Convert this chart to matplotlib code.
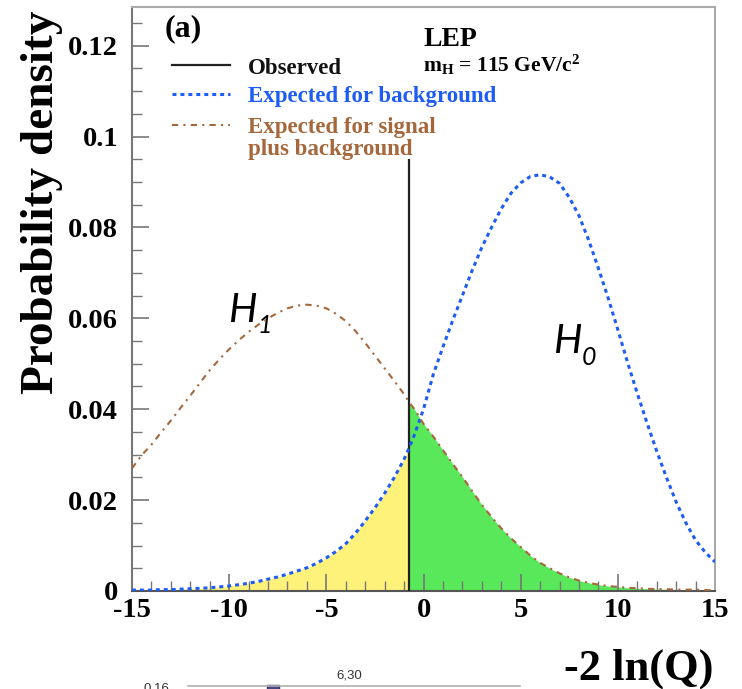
import numpy as np
import matplotlib
matplotlib.use("Agg")
import matplotlib.pyplot as plt
from matplotlib.ticker import MultipleLocator, FixedLocator
from matplotlib.lines import Line2D

plt.rcParams['mathtext.fontset'] = 'custom'
plt.rcParams['mathtext.rm'] = 'Liberation Serif:bold'
plt.rcParams['mathtext.it'] = 'Liberation Serif:bold'
plt.rcParams['mathtext.bf'] = 'Liberation Serif:bold'

# ---- data ----
x_vals = [-15, -14.5, -14, -13.5, -13, -12.5, -12, -11.5, -11, -10.5, -10, -9.5, -9, -8.5,
          -8, -7.5, -7, -6.5, -6, -5.5, -5, -4.5, -4, -3.5, -3, -2.5, -2, -1.5, -1, -0.75,
          -0.5, 0, 0.5, 1, 1.5, 2, 2.5, 3, 3.5, 4, 4.5, 5, 5.5, 6, 6.5, 7, 7.5, 8, 8.5,
          9, 9.5, 10, 10.5, 11, 11.5, 12, 12.5, 13, 13.5, 14, 14.5, 15]
background = [0.0002, 0.0002, 0.0002, 0.0003, 0.0003, 0.0004, 0.0005, 0.0006, 0.0007, 0.0009,
              0.0011, 0.0014, 0.0017, 0.0021, 0.0026, 0.0031, 0.0037, 0.0044, 0.0051, 0.0061,
              0.0073, 0.0087, 0.0104, 0.0127, 0.0154, 0.0183, 0.0215, 0.0250, 0.0290, 0.0314,
              0.0340, 0.0400, 0.0476, 0.0537, 0.0595, 0.0650, 0.0705, 0.0756, 0.0800, 0.0841,
              0.0875, 0.0898, 0.0912, 0.0916, 0.0911, 0.0897, 0.0866, 0.0826, 0.0772, 0.0710,
              0.0645, 0.0575, 0.0503, 0.0435, 0.0370, 0.0308, 0.0250, 0.0196, 0.0150, 0.0112,
              0.0085, 0.0064]
signal_bkg = [0.0270, 0.0299, 0.0322, 0.0349, 0.0375, 0.0403, 0.0430, 0.0458, 0.0486, 0.0510,
              0.0532, 0.0552, 0.0570, 0.0586, 0.0600, 0.0612, 0.0622, 0.0628, 0.0630, 0.0628,
              0.0622, 0.0610, 0.0594, 0.0572, 0.0546, 0.0518, 0.0490, 0.0462, 0.0433, 0.0416,
              0.0402, 0.0368, 0.0340, 0.0310, 0.0280, 0.0251, 0.0220, 0.0190, 0.0163, 0.0138,
              0.0116, 0.0097, 0.0078, 0.0062, 0.0050, 0.0039, 0.0030, 0.0023, 0.0018, 0.0014,
              0.0011, 0.0009, 0.0007, 0.0006, 0.0005, 0.0004, 0.0004, 0.0003, 0.0003, 0.0003,
              0.0002, 0.0002]
observed = -0.75
observed_line_top = 0.095
x_ticks = [-15, -10, -5, 0, 5, 10, 15]
x_tick_labels = ['-15', '-10', '-5', '0', '5', '10', '15']
y_ticks = [0, 0.02, 0.04, 0.06, 0.08, 0.1, 0.12]
y_tick_labels = ['0', '0.02', '0.04', '0.06', '0.08', '0.1', '0.12']
legend_labels = ['Observed', 'Expected for background', 'Expected for signal', 'plus background']

x = np.array(x_vals)
bkg = np.array(background)
sb = np.array(signal_bkg)

BLUE = '#1f5cf5'
BROWN = '#a5683c'
YELLOW = '#fff27a'
GREEN = '#58e85a'
OBS = '#222222'
SERIF = 'Liberation Serif'
BLUE_LS = (0, (1.3, 1.3))
BROWN_LS = (0, (3, 2.5, 1, 2.5))

W, H = 742, 689
def fx(px):
    return px / W
def fy(py):
    return 1 - py / H

fig = plt.figure(figsize=(W / 100, H / 100), dpi=100)
ax = fig.add_axes([fx(132), fy(591), (715 - 132) / W, (591 - 7) / H])

left = x <= observed
right = x >= observed
ax.fill_between(x[left], 0, bkg[left], color=YELLOW, lw=0, zorder=1)
ax.fill_between(x[right], 0, sb[right], color=GREEN, lw=0, zorder=1)

ax.vlines(observed, 0, observed_line_top, color=OBS, lw=1.6, zorder=3)
ax.plot(x, bkg, color=BLUE, lw=2.2, linestyle=BLUE_LS, zorder=4)
ax.plot(x, sb, color=BROWN, lw=1.5, linestyle=BROWN_LS, zorder=4)

ax.set_xlim(-15, 15)
ax.set_ylim(0, 0.1285)

ax.xaxis.set_major_locator(FixedLocator(x_ticks))
ax.xaxis.set_minor_locator(MultipleLocator(1))
ax.yaxis.set_major_locator(FixedLocator(y_ticks))
ax.yaxis.set_minor_locator(MultipleLocator(0.005))
ax.set_yticklabels(y_tick_labels)
ax.set_xticklabels(x_tick_labels)

ax.tick_params(which='both', direction='in', top=False, right=False, color='#777777')
ax.tick_params(which='major', length=12, width=1.2)
ax.tick_params(which='minor', length=7, width=1.0)
for lab in ax.get_xticklabels() + ax.get_yticklabels():
    lab.set_fontfamily(SERIF)
    lab.set_fontweight('bold')
    lab.set_fontsize(20.5)
ax.tick_params(axis='x', pad=5)
ax.tick_params(axis='y', pad=10)

for s in ax.spines.values():
    s.set_color('#aaaaaa')
    s.set_linewidth(1.5)
ax.spines['bottom'].set_color('#555555')
ax.spines['left'].set_color('#777777')

# axis labels
fig.text(fx(21), fy(202), 'Probability density', rotation=90, fontfamily=SERIF,
         fontweight='bold', fontsize=34, ha='left', va='center')
fig.text(fx(713), fy(680), '-2 ln(Q)', fontfamily=SERIF, fontweight='bold', fontsize=32,
         ha='right', va='baseline')

# annotations
fig.text(fx(165), fy(36), '(a)', fontfamily=SERIF, fontweight='bold', fontsize=23,
         va='baseline')
fig.text(fx(423), fy(46), 'LEP', fontfamily=SERIF, fontweight='bold', fontsize=20,
         va='baseline')
fig.text(fx(423), fy(72), r'm$_\mathrm{H}$ = 115 GeV/c$^\mathrm{2}$',
         fontfamily=SERIF, fontweight='bold', fontsize=15.5, va='baseline')

# legend (drawn by hand to match the layout)
for (yy, col, ls, lw) in [(65, OBS, '-', 1.6), (94, BLUE, BLUE_LS, 2.2), (125, BROWN, BROWN_LS, 1.5)]:
    fig.add_artist(Line2D([fx(172), fx(230)], [fy(yy), fy(yy)], color=col, linestyle=ls, lw=lw))
for (lab, yy, col) in zip(legend_labels, [74, 102, 133, 155], ['#111111', BLUE, BROWN, BROWN]):
    fig.text(fx(248), fy(yy), lab, fontfamily=SERIF, fontweight='bold', fontsize=16.5,
             color=col, va='baseline')

# hypothesis labels
ax.text(-10.06, 0.0591, 'H', fontfamily='Lato', style='italic', fontsize=29, ha='left', va='baseline')
ax.text(-8.52, 0.0567, '1', fontfamily='Lato', style='italic', fontsize=18, ha='left', va='baseline')
ax.text(6.66, 0.0523, 'H', fontfamily='Lato', style='italic', fontsize=29, ha='left', va='baseline')
ax.text(8.16, 0.0497, '0', fontfamily='Lato', style='italic', fontsize=18, ha='left', va='baseline')

# cropped fragment of another chart at the bottom edge
fig.text(fx(349), fy(675), '6,30', fontfamily='Liberation Sans', fontsize=9.5,
         ha='center', va='center', color='#333333')
fig.text(fx(143), fy(689), '0.16', fontfamily='Liberation Sans', fontsize=9.5,
         ha='left', va='center', color='#333333')
fig.add_artist(Line2D([fx(188), fx(520)], [fy(686), fy(686)], color='#b0b0b0', lw=1.2))
fig.add_artist(plt.Rectangle((fx(267), fy(689)), 12 / W, 4 / H, facecolor='#4a4a8a',
                             edgecolor='#333366', transform=fig.transFigure))

fig.savefig('out.png', dpi=100)
